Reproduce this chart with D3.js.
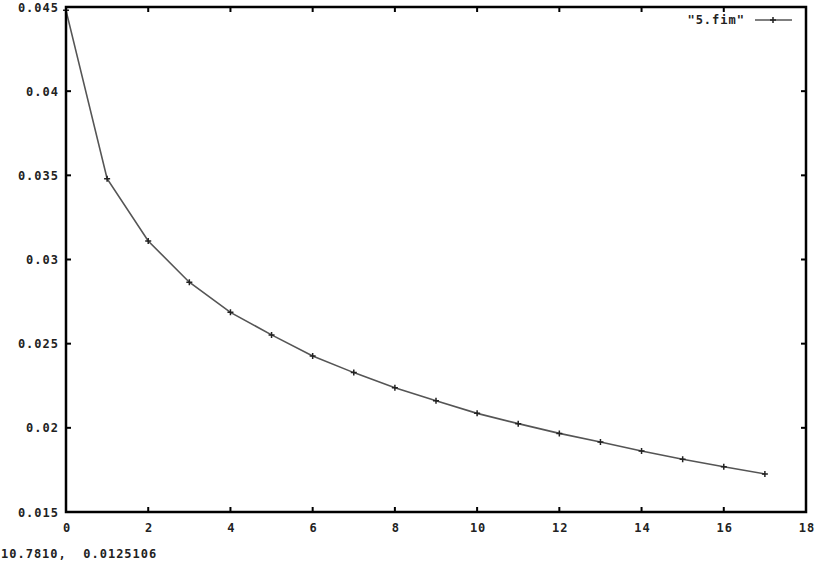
<!DOCTYPE html>
<html>
<head>
<meta charset="utf-8">
<script src="https://cdn.jsdelivr.net/npm/d3@7"></script>
<style>
body { margin:0; background:#fff; }
text { font-family:"DejaVu Sans Mono", monospace; font-size:12px; font-weight:bold; fill:#222; letter-spacing:1px; white-space:pre; }
</style>
</head>
<body>
<div id="chart"></div>
<script>
// data
var xs = [0,1,2,3,4,5,6,7,8,9,10,11,12,13,14,15,16,17]
var ys = [0.0448,0.03480,0.03110,0.02865,0.02686,0.02552,0.02427,0.02328,0.02238,0.02161,
          0.02086,0.02025,0.01967,0.01916,0.01862,0.01813,0.01769,0.01726]
var xTicks = [0,2,4,6,8,10,12,14,16,18]
var yTicks = [0.015,0.02,0.025,0.03,0.035,0.04,0.045]
var seriesName = '"5.fim"'
var statusText = '10.7810,  0.0125106'

var W = 819, H = 563
var plotL = 66, plotR = 806, plotT = 7, plotB = 512

var svg = d3.select('#chart').append('svg').attr('width',W).attr('height',H)

var x = d3.scaleLinear().domain([0,18]).range([plotL,plotR])
var y = d3.scaleLinear().domain([0.015,0.045]).range([plotB,plotT])

var fmtY = function(d){ return String(+d.toFixed(3)) }

// ticks, mirrored on all four sides (gnuplot style)
var tk = svg.append('g').attr('id','ticks').attr('stroke','#000').attr('stroke-width',2)
xTicks.forEach(function(d){
	tk.append('line').attr('x1',x(d)).attr('x2',x(d)).attr('y1',plotB).attr('y2',plotB-5)
	tk.append('line').attr('x1',x(d)).attr('x2',x(d)).attr('y1',plotT).attr('y2',plotT+5)
})
yTicks.forEach(function(d){
	tk.append('line').attr('x1',plotL).attr('x2',plotL+5).attr('y1',y(d)).attr('y2',y(d))
	tk.append('line').attr('x1',plotR).attr('x2',plotR-5).attr('y1',y(d)).attr('y2',y(d))
})

var labels = svg.append('g').attr('id','labels')
xTicks.forEach(function(d){
	labels.append('text').attr('x',x(d)+1).attr('y',532).attr('text-anchor','middle').text(d)
})
yTicks.forEach(function(d){
	labels.append('text').attr('x',59).attr('y',y(d)+4.5).attr('text-anchor','end').text(fmtY(d))
})

// series
var pts = xs.map(function(d,i){ return [d, ys[i]] })
svg.append('path').datum(pts)
	.attr('fill','none').attr('stroke','#555').attr('stroke-width',1.6)
	.attr('d', d3.line().x(function(d){return x(d[0])}).y(function(d){return y(d[1])}))

function plus(g,cx,cy){
	g.append('path').attr('d','M'+(cx-3)+' '+cy+' h6 M'+cx+' '+(cy-3)+' v6')
		.attr('stroke','#222').attr('stroke-width',1.5)
}
var marks = svg.append('g').attr('id','points')
pts.forEach(function(d){ plus(marks, x(d[0]), y(d[1])) })

// frame
svg.append('rect').attr('x',plotL).attr('y',plotT).attr('width',plotR-plotL).attr('height',plotB-plotT)
	.attr('fill','none').attr('stroke','#000').attr('stroke-width',2.5)

// legend
var lg = svg.append('g').attr('id','legend')
lg.append('text').attr('x',745).attr('y',24).attr('text-anchor','end').text(seriesName)
lg.append('line').attr('x1',755).attr('x2',792).attr('y1',20).attr('y2',20)
	.attr('stroke','#555').attr('stroke-width',1.6)
plus(lg,773,20)

// status line
svg.append('text').attr('x',1).attr('y',558).text(statusText)
</script>
</body>
</html>
